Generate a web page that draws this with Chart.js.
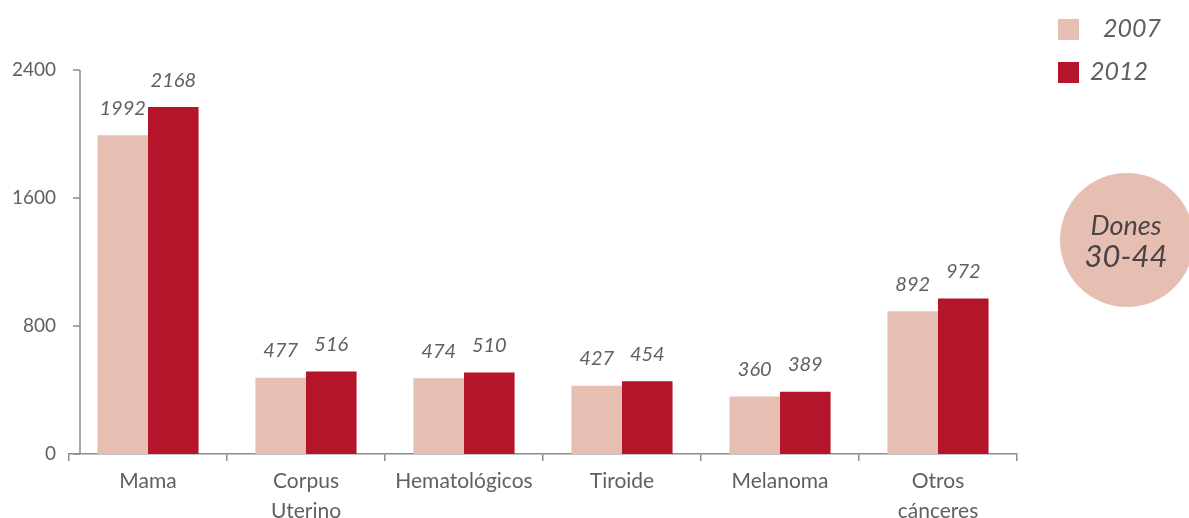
<!DOCTYPE html>
<html>
<head>
<meta charset="utf-8">
<script src="https://cdn.jsdelivr.net/npm/chart.js@4/dist/chart.umd.min.js"></script>
<style>
  html, body { margin: 0; padding: 0; background: #fff; }
  #wrap { width: 1189px; height: 518px; position: relative; }
</style>
</head>
<body>
<div id="wrap"><canvas id="js-barChart"></canvas></div>
<script>
// data
var categories = [['Mama'], ['Corpus', 'Uterino'], ['Hematológicos'], ['Tiroide'], ['Melanoma'], ['Otros', 'cánceres']];
var years = ['2007', '2012'];
var values2007 = [1992, 477, 474, 427, 360, 892];
var values2012 = [2168, 516, 510, 454, 389, 972];
var yTicks = [0, 800, 1600, 2400];
var badge = ['Dones', '30-44'];

var FONT = 'Lato, "Noto Sans", sans-serif';
var TEXT = '#606060';
var AXIS = '#8c8c8c';
var colors = ['#e6bfb2', '#b5152b'];

// y axis line + ticks drawn a little inside the plot (like the original)
var yAxisLine = {
  id: 'yAxisLine',
  afterDraw: function (chart) {
    var c = chart.ctx, a = chart.chartArea, y = chart.scales.y;
    var x = a.left + 11;
    c.save();
    c.strokeStyle = AXIS;
    c.lineWidth = 1.5;
    c.beginPath();
    c.moveTo(x, a.top);
    c.lineTo(x, a.bottom);
    yTicks.forEach(function (t) {
      var py = y.getPixelForValue(t);
      c.moveTo(x - 7, py);
      c.lineTo(x, py);
    });
    c.stroke();
    c.restore();
  }
};

// value labels above bars
var barLabels = {
  id: 'barLabels',
  afterDatasetsDraw: function (chart) {
    var c = chart.ctx;
    c.save();
    c.font = 'italic 20px ' + FONT;
    c.fillStyle = TEXT;
    c.textAlign = 'center';
    c.textBaseline = 'middle';
    chart.data.datasets.forEach(function (ds, i) {
      chart.getDatasetMeta(i).data.forEach(function (bar, j) {
        c.fillText(ds.data[j], bar.x, bar.y - 27);
      });
    });
    c.restore();
  }
};

// legend top right + circle badge
var extras = {
  id: 'extras',
  afterDraw: function (chart) {
    var c = chart.ctx;
    c.save();
    var rows = [{ y: 29, tx: 1103 }, { y: 72, tx: 1090 }];
    chart.data.datasets.forEach(function (ds, i) {
      c.fillStyle = ds.backgroundColor;
      c.fillRect(1058, rows[i].y - 10, 21, 21);
      c.fillStyle = TEXT;
      c.font = 'italic 25px ' + FONT;
      c.textAlign = 'left';
      c.textBaseline = 'middle';
      c.fillText(ds.label, rows[i].tx, rows[i].y);
    });
    // badge
    c.fillStyle = '#e6bfb2';
    c.beginPath();
    c.arc(1127, 240, 67, 0, Math.PI * 2);
    c.fill();
    c.fillStyle = '#4a4444';
    c.textAlign = 'center';
    c.font = 'italic 27px ' + FONT;
    c.fillText(badge[0], 1126, 226);
    c.font = 'italic 31px ' + FONT;
    c.fillText(badge[1], 1126, 257);
    c.restore();
  }
};

var ctx = document.getElementById('js-barChart').getContext('2d');
var myChart = new Chart(ctx, {
  type: 'bar',
  data: {
    labels: categories,
    datasets: [{
      label: years[0],
      data: values2007,
      backgroundColor: colors[0]
    }, {
      label: years[1],
      data: values2012,
      backgroundColor: colors[1]
    }]
  },
  options: {
    responsive: true,
    maintainAspectRatio: false,
    animation: false,
    categoryPercentage: 0.64,
    barPercentage: 1,
    layout: { padding: { top: 70, right: 172, left: 0, bottom: 0 } },
    plugins: {
      legend: { display: false },
      tooltip: { enabled: false }
    },
    scales: {
      x: {
        offset: true,
        afterFit: function (s) { s.height = 64; },
        grid: {
          display: true,
          drawOnChartArea: false,
          drawTicks: true,
          tickLength: 7,
          offset: true,
          color: AXIS,
          lineWidth: 1.5
        },
        border: { display: true, color: AXIS, width: 1.5 },
        ticks: {
          color: TEXT,
          padding: 6,
          maxRotation: 0,
          autoSkip: false,
          font: { family: FONT, size: 21, lineHeight: 1.4 }
        }
      },
      y: {
        min: 0,
        max: 2400,
        afterFit: function (s) { s.width = 69; },
        afterBuildTicks: function (s) {
          s.ticks = yTicks.map(function (v) { return { value: v }; });
        },
        grid: { display: false, drawTicks: false },
        border: { display: false },
        ticks: {
          color: TEXT,
          padding: 13,
          callback: function (v) { return String(v); },
          font: { family: FONT, size: 19 }
        }
      }
    }
  },
  plugins: [yAxisLine, barLabels, extras]
});
</script>
</body>
</html>
